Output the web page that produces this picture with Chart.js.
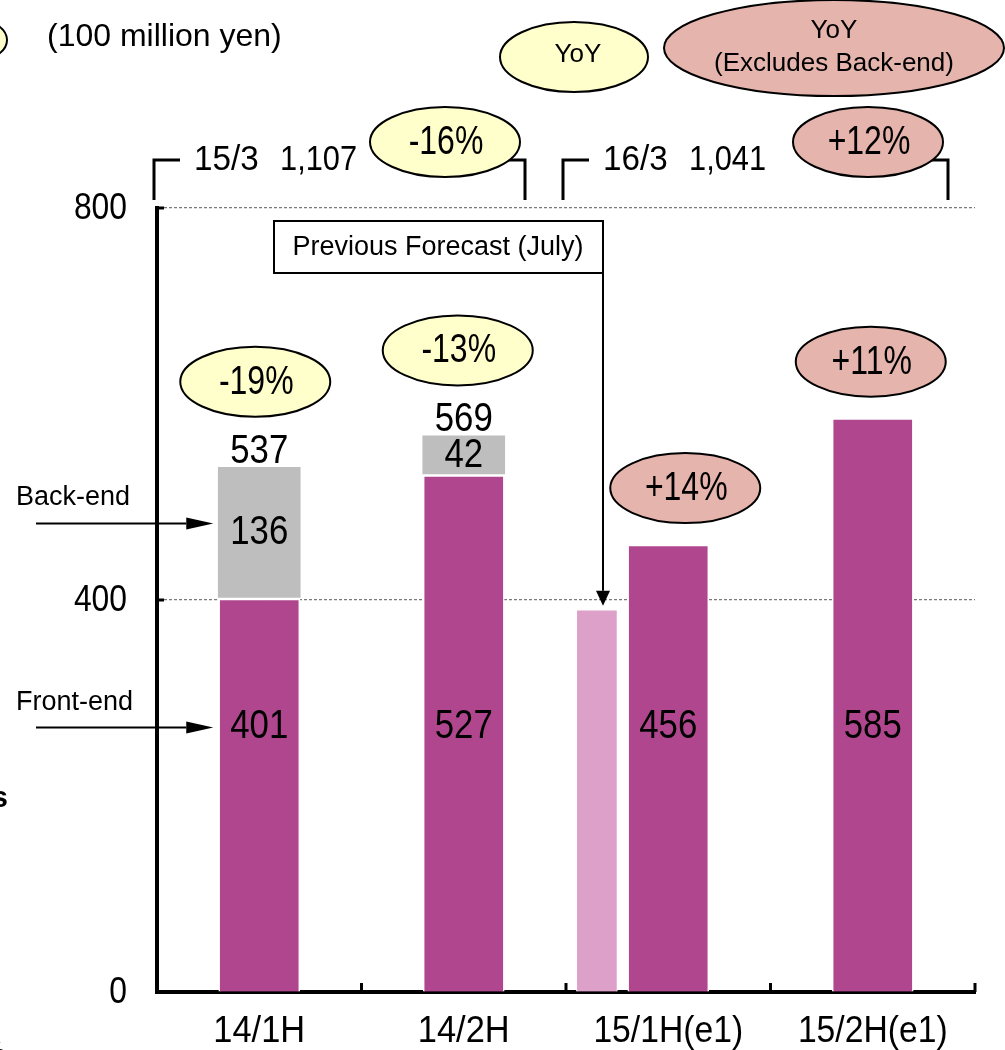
<!DOCTYPE html>
<html>
<head>
<meta charset="utf-8">
<script src="https://cdn.jsdelivr.net/npm/chart.js@4.4.0/dist/chart.umd.min.js"></script>
<style>
  html, body { margin: 0; padding: 0; background: #fff; overflow: hidden; }
</style>
</head>
<body>
<canvas id="chart" width="1005" height="1050"></canvas>
<script>
// values in 100 million yen
const categories = ['14/1H', '14/2H', '15/1H(e1)', '15/2H(e1)'];
const frontEnd = [401, 527, 456, 585];
const backEnd = [136, 42, null, null];
const previousForecast = [null, null, 390, null];
const yoyLabels = ['-19%', '-13%', '+14%', '+11%'];
const yoyExclBackEnd = [false, false, true, true];
const fiscalYears = ['15/3', '16/3'];
const fiscalTotals = ['1,107', '1,041'];
const fiscalYoy = ['-16%', '+12%'];
const fiscalExclBackEnd = [false, true];
const yTicks = [0, 400, 800];

const TXT_FONT = "'Liberation Sans', Arial, sans-serif";
const YELLOW = '#FFFFCC';
const PINK = '#E5B4AC';
const MAGENTA = '#B0478E';
const GREY = '#BEBEBE';
const LIGHT = '#DDA0C8';
const FRONT_LABEL_AT = 270;        // front-end labels sit at this level
const PREV_SHIFT = -0.33;          // previous forecast bar sits left of the category centre
const YOY_SHIFT = [-4, -6, 17, -2]; // ellipse nudges, px
const BRACKET_RIGHT_INSET = [41, 27];

function ellipse(ctx, cx, cy, rx, ry, fill) {
  ctx.beginPath();
  ctx.ellipse(cx, cy, rx, ry, 0, 0, Math.PI * 2);
  ctx.fillStyle = fill;
  ctx.fill();
  ctx.lineWidth = 2;
  ctx.strokeStyle = '#000';
  ctx.stroke();
}

function text(ctx, str, x, y, font, align, baseline) {
  ctx.font = font;
  ctx.fillStyle = '#000';
  ctx.textAlign = align || 'center';
  ctx.textBaseline = baseline || 'middle';
  ctx.fillText(str, x, y);
}

// narrow "gothic" numerals: regular sans squeezed horizontally
function ntext(ctx, str, x, y, size, sx, align, baseline) {
  ctx.save();
  ctx.translate(x, y);
  ctx.scale(sx, 1);
  text(ctx, str, 0, 0, size + 'px ' + TXT_FONT, align, baseline);
  ctx.restore();
}

function arrow(ctx, x1, y1, x2, y2, len, half) {
  const a = Math.atan2(y2 - y1, x2 - x1);
  const bx = x2 - Math.cos(a) * len, by = y2 - Math.sin(a) * len;
  ctx.strokeStyle = '#000';
  ctx.lineWidth = 2;
  ctx.beginPath();
  ctx.moveTo(x1, y1);
  ctx.lineTo(bx, by);
  ctx.stroke();
  ctx.beginPath();
  ctx.moveTo(x2, y2);
  ctx.lineTo(bx - Math.sin(a) * half, by + Math.cos(a) * half);
  ctx.lineTo(bx + Math.sin(a) * half, by - Math.cos(a) * half);
  ctx.closePath();
  ctx.fillStyle = '#000';
  ctx.fill();
}

const annotations = {
  id: 'annotations',
  afterDatasetsDraw(chart) {
    const { ctx } = chart;
    const xs = chart.scales.x, ys = chart.scales.y;
    const step = (xs.right - xs.left) / categories.length;
    const front = chart.getDatasetMeta(0).data;
    const back = chart.getDatasetMeta(1).data;
    const prev = chart.getDatasetMeta(2).data;
    ctx.save();

    // inward tick marks on both axes
    ctx.strokeStyle = '#000';
    ctx.lineWidth = 3;
    ctx.beginPath();
    for (let i = 1; i <= categories.length; i++) {
      const bx = xs.left + i * step;
      ctx.moveTo(bx, ys.bottom);
      ctx.lineTo(bx, ys.bottom - 9);
    }
    yTicks.slice(1).forEach(v => {
      const py = ys.getPixelForValue(v);
      ctx.moveTo(xs.left, py);
      ctx.lineTo(xs.left + 7, py);
    });
    ctx.stroke();

    // axis tick labels
    ys.ticks.forEach(t => ntext(ctx, String(t.value), ys.right - 30, ys.getPixelForValue(t.value) + 1, 37, 0.86, 'right'));
    categories.forEach((c, i) => ntext(ctx, c, xs.getPixelForTick(i), ys.bottom + 40, 37, i < 2 ? 0.93 : 0.91));

    // bar labels and YoY ellipses
    categories.forEach((c, i) => {
      const cx = front[i].x;
      ntext(ctx, String(frontEnd[i]), cx, ys.getPixelForValue(FRONT_LABEL_AT), 40, 0.87);
      let top = front[i].y;
      if (backEnd[i] != null) {
        const b = back[i];
        ntext(ctx, String(backEnd[i]), cx, (b.y + b.base) / 2 + 1, 40, 0.87);
        ntext(ctx, String(frontEnd[i] + backEnd[i]), cx, b.y - 3, 40, 0.87, 'center', 'alphabetic');
        top = b.y;
      }
      const ey = top - (backEnd[i] != null ? 84 : 57);
      const ex = cx + YOY_SHIFT[i];
      ellipse(ctx, ex, ey, 75, 35, yoyExclBackEnd[i] ? PINK : YELLOW);
      ntext(ctx, yoyLabels[i], ex + 1, ey + 1, 40, 0.8);
    });

    // fiscal year brackets
    fiscalYears.forEach((fy, j) => {
      const left = xs.left + 2 * j * step - 3;
      const right = xs.left + (2 * j + 2) * step - BRACKET_RIGHT_INSET[j];
      const ty = ys.top - 48, by = ys.top - 8;
      ctx.strokeStyle = '#000';
      ctx.lineWidth = 3;
      ctx.beginPath();
      ctx.moveTo(left, by); ctx.lineTo(left, ty); ctx.lineTo(left + 26, ty);
      ctx.moveTo(right - 22, ty); ctx.lineTo(right, ty); ctx.lineTo(right, by);
      ctx.stroke();
      ntext(ctx, fy, left + 40, ty, 35, 0.95, 'left');
      ntext(ctx, fiscalTotals[j], left + 126, ty, 35, 0.88, 'left');
      ellipse(ctx, right - 80, ty - 18, 75, 35, fiscalExclBackEnd[j] ? PINK : YELLOW);
      ntext(ctx, fiscalYoy[j], right - 79, ty - 17, 40, 0.8);
    });

    // legend ellipses and unit
    ellipse(ctx, -29, 40, 36, 22, YELLOW);
    text(ctx, '(100 million yen)', 47, 37, '32px ' + TXT_FONT, 'left');
    ellipse(ctx, 574, 57, 74, 35, YELLOW);
    text(ctx, 'YoY', 578, 55, '26px ' + TXT_FONT);
    ellipse(ctx, 834, 48, 170, 48, PINK);
    text(ctx, 'YoY', 834, 31, '26px ' + TXT_FONT);
    text(ctx, '(Excludes Back-end)', 834, 64, '26px ' + TXT_FONT);

    // previous forecast callout
    const p = prev[0];
    ctx.fillStyle = '#fff';
    ctx.fillRect(274, 221, 329, 52);
    ctx.strokeStyle = '#000';
    ctx.lineWidth = 2;
    ctx.strokeRect(274, 221, 329, 52);
    text(ctx, 'Previous Forecast (July)', 438, 248, '27px ' + TXT_FONT);
    arrow(ctx, 603, 273, 603, p.y - 4, 15, 7);

    // segment call-outs on the left
    const backY = (back[0].y + back[0].base) / 2 - 9;
    const frontY = ys.getPixelForValue(FRONT_LABEL_AT);
    const tipX = front[0].x - 46;
    text(ctx, 'Back-end', 16, backY - 26, '27px ' + TXT_FONT, 'left');
    arrow(ctx, 36, backY, tipX, backY, 27, 6);
    text(ctx, 'Front-end', 16, frontY - 25, '27px ' + TXT_FONT, 'left');
    arrow(ctx, 36, frontY, tipX, frontY, 27, 6);

    // cropped slide remnants
    text(ctx, 's', 8, 807, 'bold 30px ' + TXT_FONT, 'right', 'alphabetic');
    text(ctx, '%', 6, 1062, '30px ' + TXT_FONT, 'right', 'alphabetic');
    ctx.restore();
  }
};

const prevIndex = previousForecast.findIndex(v => v != null);

new Chart(document.getElementById('chart'), {
  type: 'bar',
  data: {
    labels: categories,
    datasets: [
      {
        label: 'Front-end',
        data: frontEnd,
        backgroundColor: MAGENTA,
        borderColor: '#fff',
        borderWidth: 1.5,
        barThickness: 81,
        grouped: false,
        stack: 'main'
      },
      {
        label: 'Back-end',
        data: backEnd,
        backgroundColor: GREY,
        borderColor: '#fff',
        borderWidth: 1.5,
        borderSkipped: false,
        barThickness: 85,
        grouped: false,
        stack: 'main'
      },
      {
        label: 'Previous Forecast (July)',
        data: [{ x: prevIndex + PREV_SHIFT, y: previousForecast[prevIndex] }],
        xAxisID: 'xp',
        backgroundColor: LIGHT,
        borderColor: '#fff',
        borderWidth: 1,
        barThickness: 41,
        grouped: false,
        stack: 'prev'
      }
    ]
  },
  options: {
    responsive: false,
    devicePixelRatio: 1,
    animation: false,
    layout: { padding: { top: 208, right: 30, bottom: 0, left: 0 } },
    plugins: { legend: { display: false }, tooltip: { enabled: false } },
    scales: {
      x: {
        offset: true,
        grid: { display: false, drawTicks: false },
        border: { display: true, color: '#000', width: 4 },
        ticks: { display: false },
        afterFit: s => { s.height = 58; }
      },
      xp: {
        type: 'linear',
        display: false,
        min: -0.5,
        max: categories.length - 0.5
      },
      y: {
        stacked: true,
        min: yTicks[0],
        max: yTicks[yTicks.length - 1],
        grid: {
          color: c => (c.tick && c.tick.value === 0 ? 'rgba(0,0,0,0)' : '#7a7a7a'),
          lineWidth: 1.2,
          drawTicks: false
        },
        border: { display: true, color: '#000', width: 4, dash: [3, 2] },
        afterBuildTicks: s => { s.ticks = yTicks.map(v => ({ value: v })); },
        ticks: { display: false },
        afterFit: s => { s.width = 157; }
      }
    }
  },
  plugins: [annotations]
});
</script>
</body>
</html>
